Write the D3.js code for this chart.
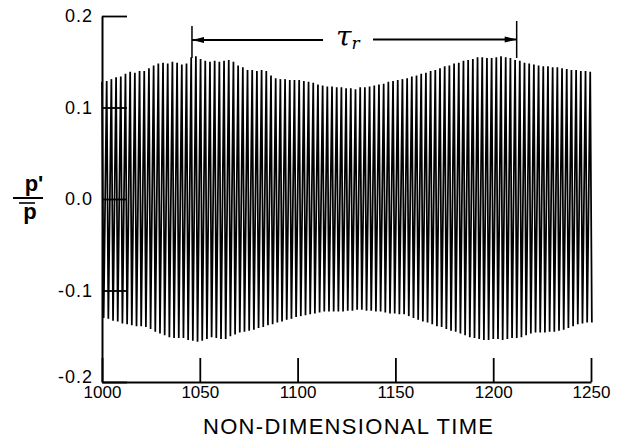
<!DOCTYPE html>
<html>
<head>
<meta charset="utf-8">
<script src="https://cdn.jsdelivr.net/npm/d3@7/dist/d3.min.js"></script>
<style>
  html, body { margin: 0; padding: 0; background: #fff; }
  svg { display: block; }
  text { font-family: "Liberation Sans", Arial, sans-serif; fill: #000; }
</style>
</head>
<body>
<svg id="chart" width="626" height="441"></svg>
<script>
// ---------------- data ----------------
const timeStart = 1000;          // first sample time
const cyclePeriod = 2.4;         // non-dimensional period of one oscillation
const troughPhase = 0.35;        // fraction of a cycle between peak and trough

// peak value (p'/p) of each oscillation cycle
const peaks = [
  0.128,0.129,0.131,0.133,0.134,0.137,0.139,0.138,0.140,0.140,
  0.143,0.146,0.148,0.149,0.148,0.150,0.149,0.147,0.148,0.155,
  0.156,0.153,0.151,0.150,0.151,0.150,0.151,0.152,0.150,0.146,
  0.144,0.141,0.141,0.140,0.141,0.140,0.135,0.132,0.131,0.131,
  0.130,0.130,0.130,0.129,0.128,0.127,0.125,0.124,0.123,0.123,
  0.122,0.122,0.121,0.121,0.120,0.122,0.122,0.123,0.124,0.125,
  0.126,0.128,0.129,0.130,0.131,0.132,0.134,0.135,0.137,0.138,
  0.140,0.141,0.143,0.145,0.146,0.148,0.149,0.151,0.152,0.153,
  0.155,0.155,0.154,0.154,0.155,0.156,0.155,0.154,0.152,0.151,
  0.149,0.148,0.147,0.146,0.145,0.145,0.144,0.144,0.143,0.142,
  0.141,0.141,0.140,0.140,0.139
];
// trough value (p'/p) of each oscillation cycle
const troughs = [
  -0.130,-0.131,-0.133,-0.134,-0.136,-0.137,-0.138,-0.139,-0.139,-0.140,
  -0.142,-0.145,-0.147,-0.149,-0.151,-0.152,-0.152,-0.152,-0.154,-0.155,
  -0.156,-0.155,-0.153,-0.151,-0.152,-0.153,-0.153,-0.150,-0.148,-0.146,
  -0.145,-0.144,-0.143,-0.141,-0.140,-0.138,-0.137,-0.135,-0.134,-0.132,
  -0.131,-0.129,-0.128,-0.127,-0.126,-0.125,-0.124,-0.123,-0.123,-0.123,
  -0.123,-0.123,-0.122,-0.122,-0.121,-0.121,-0.122,-0.122,-0.123,-0.123,
  -0.124,-0.125,-0.125,-0.126,-0.126,-0.128,-0.130,-0.132,-0.134,-0.135,
  -0.137,-0.139,-0.140,-0.142,-0.144,-0.145,-0.147,-0.149,-0.151,-0.152,
  -0.153,-0.154,-0.154,-0.153,-0.153,-0.154,-0.153,-0.152,-0.152,-0.151,
  -0.149,-0.147,-0.146,-0.146,-0.146,-0.145,-0.145,-0.144,-0.143,-0.141,
  -0.139,-0.137,-0.136,-0.135,-0.135
];

const xTicks = [1000, 1050, 1100, 1150, 1200, 1250];
const yTicks = [-0.2, -0.1, 0.0, 0.1, 0.2];
const xDomain = [1000, 1250];
const yDomain = [-0.2, 0.2];
const tauStart = 1046;   // start of the tau_r bracket
const tauEnd = 1212;     // end of the tau_r bracket
const xTitle = "NON-DIMENSIONAL TIME";

// ---------------- drawing ----------------
const svg = d3.select("#chart");
const x = d3.scaleLinear().domain(xDomain).range([102, 591]);
const y = d3.scaleLinear().domain(yDomain).range([382, 16]);

// signal
const pts = [];
peaks.forEach((p, i) => {
  const t = timeStart + i * cyclePeriod;
  pts.push([t, p]);
  pts.push([t + troughPhase * cyclePeriod, troughs[i]]);
});
svg.append("path")
  .datum(pts)
  .attr("fill", "none")
  .attr("stroke", "#000")
  .attr("stroke-width", 1.75)
  .attr("stroke-linejoin", "miter")
  .attr("d", d3.line().x(d => x(d[0])).y(d => y(d[1])));

// axes
const gx = svg.append("g")
  .attr("transform", `translate(0,${y(-0.2)})`)
  .call(d3.axisBottom(x).tickValues(xTicks).tickSize(-24).tickSizeOuter(0)
        .tickPadding(4).tickFormat(d3.format("d")));
const gy = svg.append("g")
  .attr("transform", `translate(${x(1000)},0)`)
  .call(d3.axisLeft(y).tickValues(yTicks).tickSize(-25).tickSizeOuter(0)
        .tickPadding(9).tickFormat(d => d.toFixed(1)));
[gx, gy].forEach(g => {
  g.selectAll("path.domain").attr("stroke", "#000").attr("stroke-width", 2);
  g.selectAll(".tick line").attr("stroke", "#000").attr("stroke-width", 1.8);
  g.selectAll(".tick text").attr("fill", "#000")
    .style("font-family", '"Liberation Sans", Arial, sans-serif');
});
gx.selectAll(".tick text").style("font-size", "17px");
gy.selectAll(".tick text").style("font-size", "18px").style("letter-spacing", "1px");
// lift the bottom y label a little so it clears the 1000 label
gy.selectAll(".tick text").filter(d => d === -0.2).attr("dy", "0.05em");

// x title
svg.append("text")
  .attr("x", 203).attr("y", 434)
  .attr("textLength", 290).attr("lengthAdjust", "spacing")
  .style("font-size", "22px")
  .text(xTitle);

// y label: p' over p-bar
const yl = svg.append("g");
yl.append("text").attr("x", 34).attr("y", 191).attr("text-anchor", "middle")
  .style("font-size", "22px").style("font-weight", "bold").text("p'");
yl.append("line").attr("x1", 13).attr("x2", 43).attr("y1", 198).attr("y2", 198)
  .attr("stroke", "#000").attr("stroke-width", 2);
yl.append("line").attr("x1", 19).attr("x2", 35).attr("y1", 203).attr("y2", 203)
  .attr("stroke", "#000").attr("stroke-width", 1.6);
yl.append("text").attr("x", 30).attr("y", 219).attr("text-anchor", "middle")
  .style("font-size", "22px").style("font-weight", "bold").text("p");

// tau_r bracket
const tb = svg.append("g").attr("stroke", "#000");
const yArrow = 40;
tb.append("line").attr("x1", x(tauStart)).attr("x2", x(tauStart))
  .attr("y1", 26).attr("y2", 58).attr("stroke-width", 1.5);
tb.append("line").attr("x1", x(tauEnd)).attr("x2", x(tauEnd))
  .attr("y1", 21).attr("y2", 58).attr("stroke-width", 1.5);
tb.append("line").attr("x1", x(tauStart)).attr("x2", 323)
  .attr("y1", yArrow).attr("y2", yArrow).attr("stroke-width", 2);
tb.append("line").attr("x1", 373).attr("x2", x(tauEnd))
  .attr("y1", yArrow - 0.5).attr("y2", yArrow - 0.5).attr("stroke-width", 2);
// arrow heads
tb.append("path").attr("stroke", "none").attr("fill", "#000")
  .attr("d", `M${x(tauStart)},${yArrow} l12,-3 l0,6 z`);
tb.append("path").attr("stroke", "none").attr("fill", "#000")
  .attr("d", `M${x(tauEnd)},${yArrow - 0.5} l-12,-3 l0,6 z`);
const tt = svg.append("text").attr("x", 336).attr("y", 46)
  .style("font-family", '"DejaVu Serif", serif').style("font-style", "italic");
tt.append("tspan").style("font-size", "28px").text("τ");
tt.append("tspan").attr("dy", 3).style("font-size", "17px").text("r");
</script>
</body>
</html>
